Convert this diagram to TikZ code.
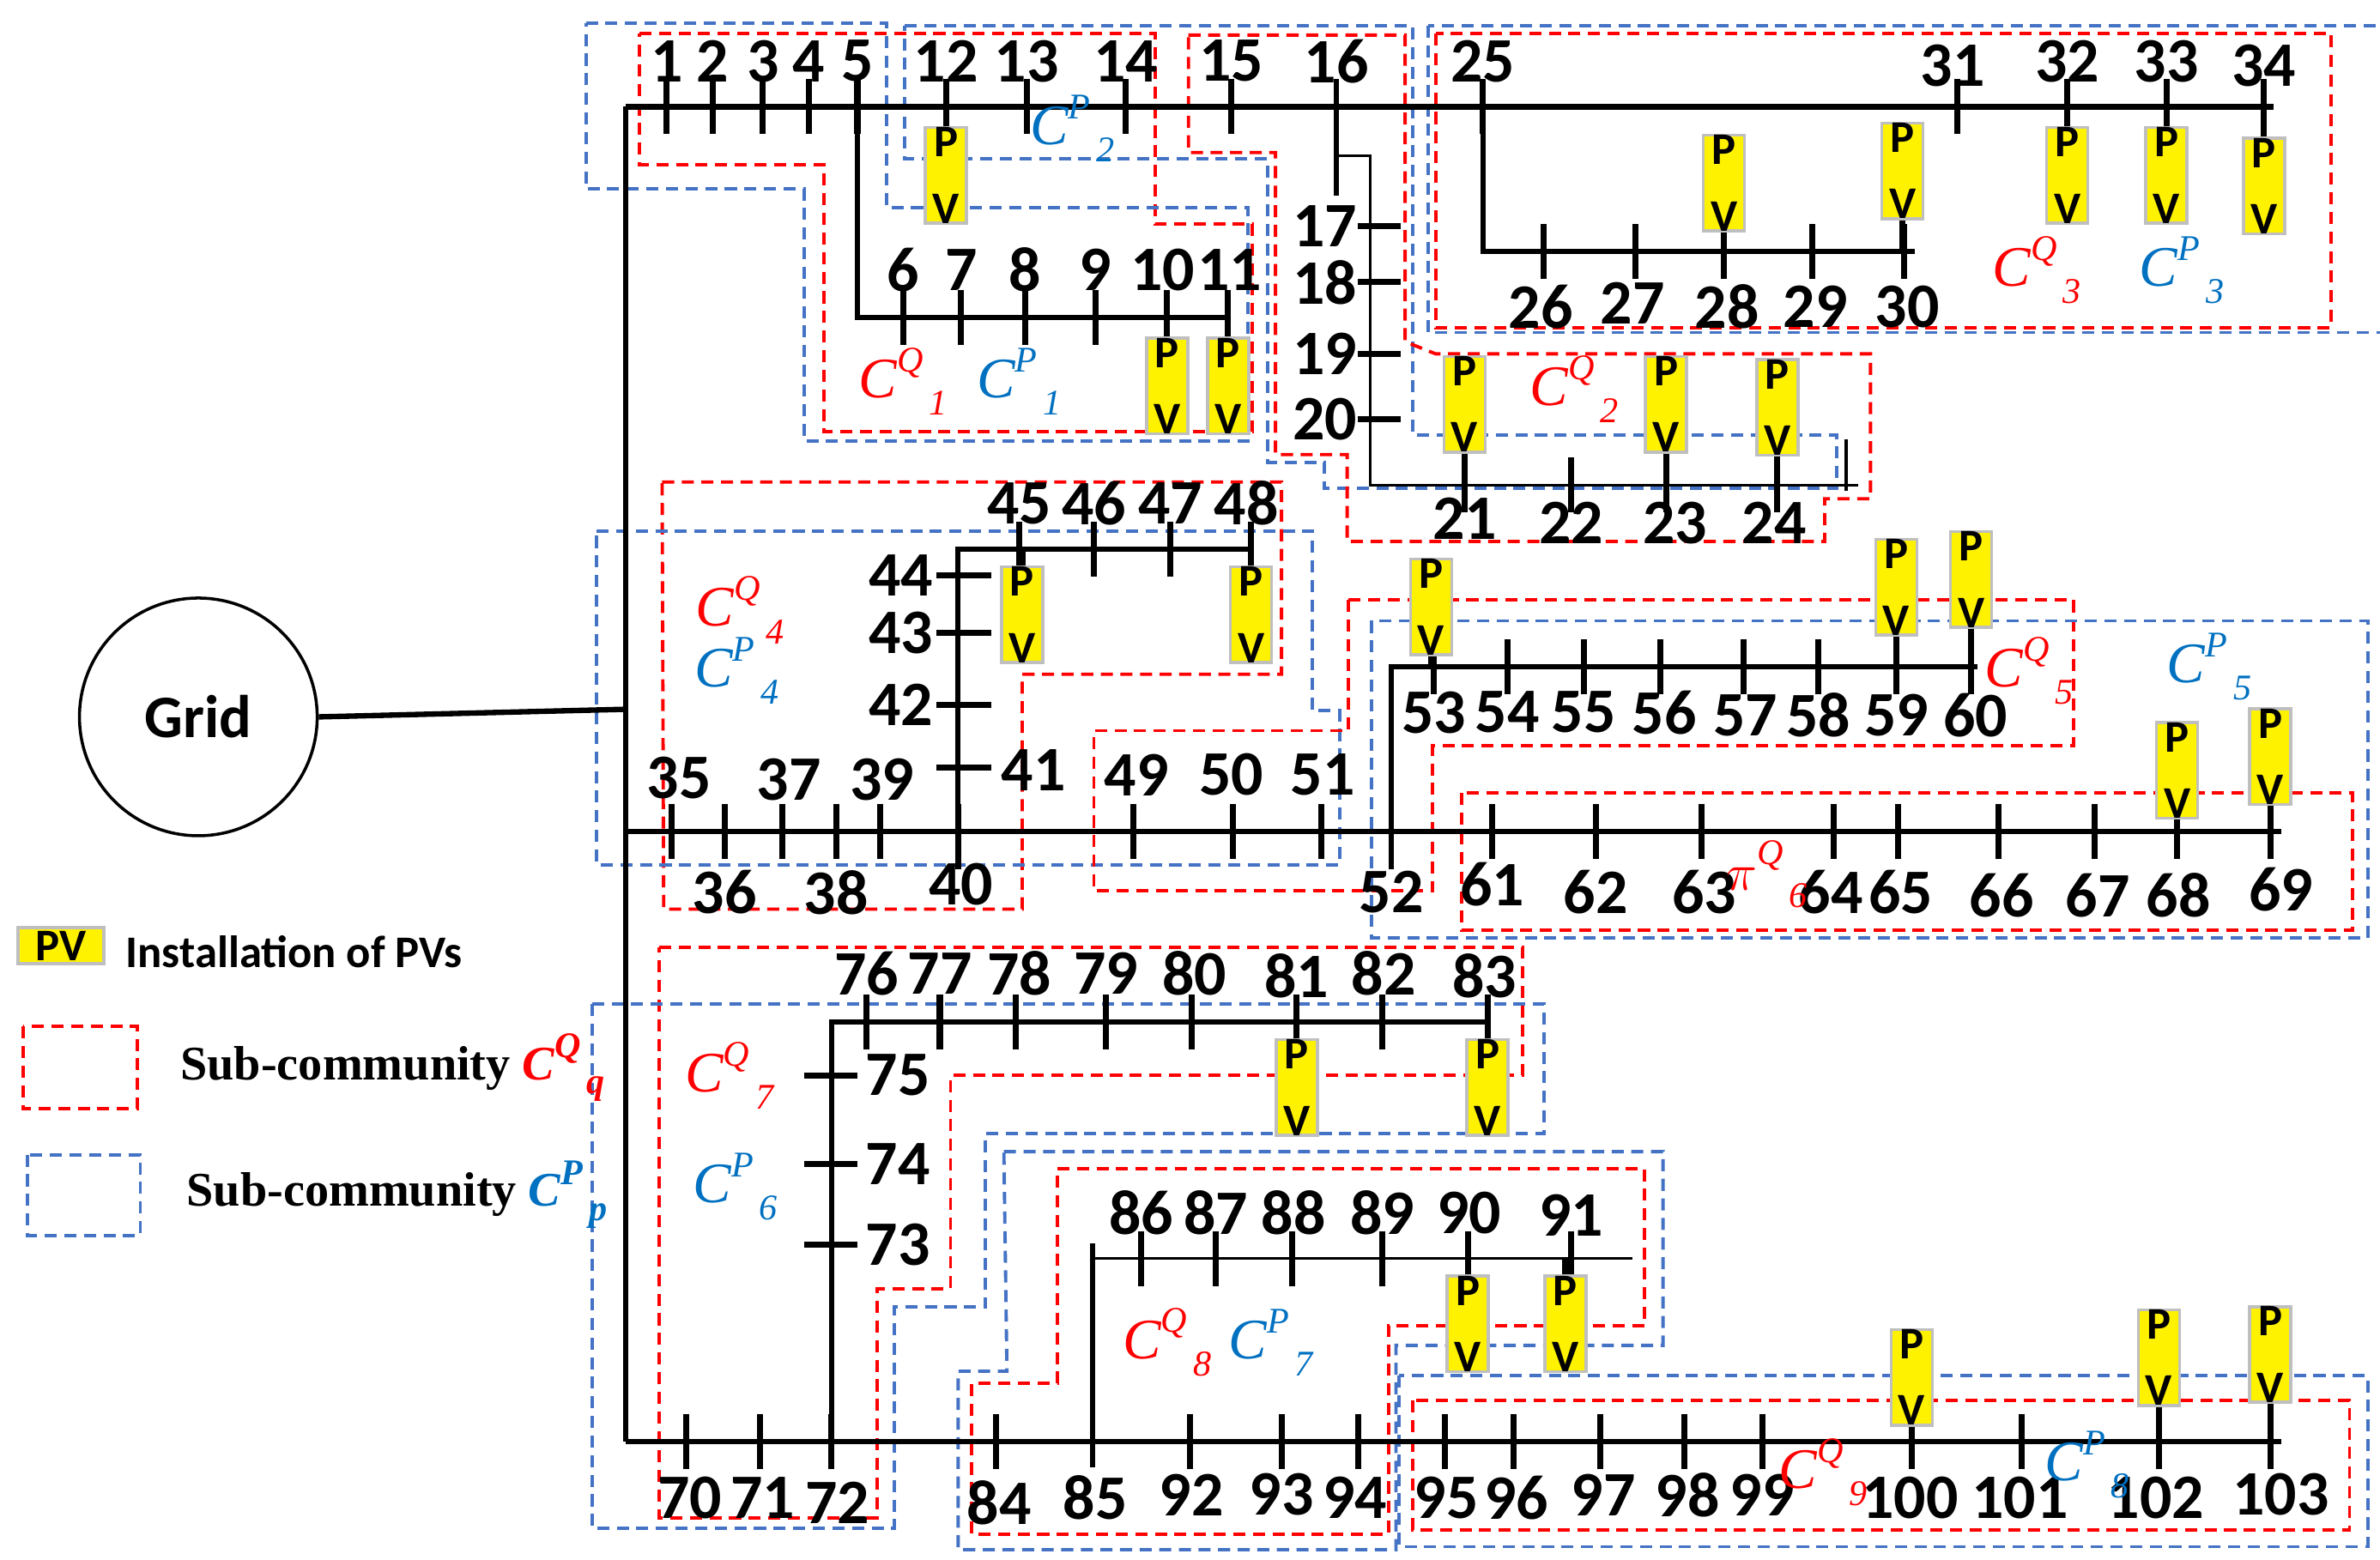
\documentclass[tikz,border=0pt]{standalone}
\usepackage{fontspec}
\setmainfont{Carlito}
\newfontfamily\tmsfont{Liberation Serif}
\usetikzlibrary{positioning}
\definecolor{qred}{RGB}{255,0,0}
\definecolor{pblue}{RGB}{68,114,196}
\definecolor{lblue}{RGB}{0,112,192}
\newcommand{\subcom}[3]{{\tmsfont\itshape #1\raisebox{0.45em}{\fontsize{12}{12}\selectfont #2}\raisebox{-0.3em}{\fontsize{12}{12}\selectfont\,#3}}}
\begin{document}
\begin{tikzpicture}[x=0.01778cm, y=-0.01778cm,
        every node/.style={inner sep=0pt},
        bus/.style={line width=1.8pt, draw=black},
        thinbus/.style={line width=1pt, draw=black},
        tick/.style={line width=2pt, draw=black},
        num/.style={font=\fontsize{21}{21}\selectfont\bfseries},
        pv/.style={draw=black!25, line width=1pt, fill=yellow, minimum width=0.48cm, minimum height=1.05cm,
                   font=\fontsize{15}{15}\selectfont\bfseries, align=center},
        qbox/.style={draw=qred, line width=1.1pt, dash pattern=on 4pt off 2.5pt},
        pbox/.style={draw=pblue, line width=1.1pt, dash pattern=on 4pt off 2.5pt},
        qlab/.style={text=qred, font=\fontsize{19}{19}\selectfont},
        plab/.style={text=lblue, font=\fontsize{19}{19}\selectfont}
    ]
        \useasboundingbox (0,0) rectangle (1560,1022.7);

        % --- Sub-community borders ---
        \draw[qbox] (419,22) -- (757,22) -- (757,147) -- (821,147) -- (821,283) -- (540,283) -- (540,108) -- (419,108) -- cycle;
        \draw[pbox] (384,15) -- (581,15) -- (581,136) -- (818,136) -- (818,289) -- (527,289) -- (527,124) -- (384,124) -- cycle;
        \draw[pbox] (593,17) -- (926,17) -- (926,285) -- (1204,285) -- (1204,320) -- (868,320) -- (868,303) -- (831,303) -- (831,104) -- (593,104) -- cycle;
        \draw[qbox] (779,23) -- (921,23) -- (921,224) -- (941,232) -- (1226,232) -- (1226,327) -- (1196,327) -- (1196,355) -- (883,355) -- (883,298) -- (836,298) -- (836,100) -- (779,100) -- cycle;
        \draw[pbox] (936,17) rectangle (1566,218);
        \draw[qbox] (941,22) rectangle (1528,215);
        \draw[qbox] (434,316) -- (840,316) -- (840,442) -- (670,442) -- (670,596) -- (435,596) -- cycle;
        \draw[pbox] (391,348) -- (860,348) -- (860,466) -- (878,466) -- (878,567) -- (391,567) -- cycle;
        \draw[qbox] (884,393) -- (1359,393) -- (1359,489) -- (939,489) -- (939,584) -- (717,584) -- (717,479) -- (884,479) -- cycle;
        \draw[pbox] (899,407) rectangle (1552,615);
        \draw[qbox] (958,520) rectangle (1542,610);
        \draw[qbox] (432,621) -- (998,621) -- (998,705) -- (623,705) -- (623,845) -- (575,845) -- (575,995) -- (432,995) -- cycle;
        \draw[pbox] (388,658) -- (1012,658) -- (1012,743) -- (646,743) -- (646,857) -- (586,857) -- (586,1002) -- (388,1002) -- cycle;
        \draw[pbox] (658,755) -- (1090,755) -- (1090,882) -- (915,882) -- (915,1016) -- (628,1016) -- (628,899) -- (660,899) -- cycle;
        \draw[qbox] (693,766) -- (1078,766) -- (1078,869) -- (910,869) -- (910,1006) -- (637,1006) -- (637,907) -- (693,907) -- cycle;
        \draw[pbox] (917,902) rectangle (1552,1014);
        \draw[qbox] (926,918) rectangle (1540,1003);

        % --- Grid ---
        \node[draw, line width=1pt, circle, minimum size=2.77cm, font=\fontsize{20}{20}\selectfont\bfseries] (grid) at (130,470) {Grid};
        \coordinate (pcc) at (410,465);
        \draw[bus] (grid.east) -- (pcc);

        % --- Main lines ---
        \coordinate (top_w) at (410,70);
        \coordinate (top_e) at (1490,70);
        \coordinate (mid_w) at (410,545);
        \coordinate (mid_e) at (1495,545);
        \coordinate (bot_w) at (410,945);
        \coordinate (bot_e) at (1495,945);
        \draw[bus] (top_w) -- (bot_w);
        \draw[bus] (top_w) -- (top_e);
        \draw[bus] (mid_w) -- (mid_e);
        \draw[bus] (bot_w) -- (bot_e);

        % --- Laterals ---
        \draw[bus] (562,70) -- (562,208) -- (805,208);
        \draw[bus] (876,52) -- (876,128);
        \draw[thinbus] (876,102) -- (898,102) -- (898,318) -- (1218,318);
        \draw[thinbus] (1210,288) -- (1210,322);
        \draw[bus] (972,52) -- (972,165) -- (1255,165);
        \draw[bus] (628,570) -- (628,360) -- (820,360);
        \draw[bus] (912,570) -- (912,437) -- (1296,437);
        \draw[bus] (545,945) -- (545,670) -- (975,670);
        \draw[bus] (716,962) -- (716,815);
        \draw[thinbus] (716,825) -- (1070,825);

        % --- Buses on horizontal lines: x / name / line y / label y ---
        \foreach \x/\n/\ly/\ty in {437/1/70/40, 467/2/70/40, 500/3/70/40, 530/4/70/40, 562/5/70/40,
                620/12/70/40, 673/13/70/40, 738/14/70/40, 807/15/70/40, 876/16/70/40, 972/25/70/40,
                1280/31/70/43, 1355/32/70/40, 1420/33/70/40, 1484/34/70/43,
                592/6/208/177, 630/7/208/177, 672/8/208/177, 718/9/208/177, 762/10/208/177, 806/11/208/177,
                1010/26/165/201, 1070/27/165/199, 1132/28/165/201, 1190/29/165/201, 1250/30/165/201,
                960/21/318/340, 1030/22/318/343, 1098/23/318/343, 1163/24/318/343,
                668/45/360/330, 717/46/360/330, 767/47/360/330, 817/48/360/330,
                445/35/545/510, 517/37/545/511, 578/39/545/511, 745/49/545/508, 807/50/545/508, 867/51/545/508,
                475/36/545/585, 548/38/545/585, 630/40/545/580, 912/52/545/585,
                978/61/545/580, 1046/62/545/585, 1117/63/545/585, 1200/64/545/585, 1246/65/545/585,
                1312/66/545/587, 1375/67/545/587, 1428/68/545/587, 1495/69/545/583,
                940/53/437/467, 988/54/437/467, 1038/55/437/467, 1091/56/437/467, 1144/57/437/469,
                1192/58/437/469, 1243/59/437/469, 1295/60/437/469,
                568/76/670/638, 616/77/670/638, 668/78/670/638, 725/79/670/638, 783/80/670/638,
                850/81/670/640, 907/82/670/638, 973/83/670/640,
                748/86/825/795, 797/87/825/795, 848/88/825/795, 906/89/825/795, 963/90/825/795, 1030/91/825/797,
                452/70/945/982, 500/71/945/982, 549/72/945/985, 655/84/945/985, 718/85/945/982,
                781/92/945/980, 840/93/945/980, 888/94/945/982, 948/95/945/982, 994/96/945/982,
                1051/97/945/980, 1106/98/945/980, 1155/99/945/980, 1252/100/945/982, 1324/101/945/982,
                1413/102/945/982, 1495/103/945/980}
        {
            \node[num] (n\n) at (\x,\ty) {\n};
        }
        \foreach \x/\ly in {437/70, 467/70, 500/70, 530/70, 562/70, 620/70, 673/70, 738/70, 807/70, 972/70,
                1283/70, 1355/70, 1420/70, 1484/70,
                592/208, 630/208, 672/208, 718/208, 765/208, 805/208,
                1012/165, 1072/165, 1130/165, 1188/165, 1248/165,
                960/318, 1030/318, 1092/318, 1165/318,
                668/360, 717/360, 767/360, 820/360,
                440/545, 475/545, 513/545, 548/545, 577/545, 743/545, 808/545, 866/545,
                978/545, 1046/545, 1115/545, 1202/545, 1244/545, 1310/545, 1373/545, 1427/545, 1488/545,
                940/437, 988/437, 1038/437, 1088/437, 1143/437, 1192/437, 1243/437, 1292/437,
                568/670, 616/670, 666/670, 725/670, 781/670, 850/670, 906/670, 975/670,
                748/825, 797/825, 847/825, 906/825, 962/825, 1030/825,
                450/945, 498/945, 545/945, 653/945, 780/945, 840/945, 890/945,
                947/945, 992/945, 1049/945, 1104/945, 1155/945, 1253/945, 1325/945, 1415/945, 1488/945}
        {
            \draw[tick] (\x,\ly-18) -- (\x,\ly+18);
        }
        \draw[tick] (628,527) -- (628,570);

        % --- Buses on vertical lines ---
        \foreach \yy/\n in {148/17, 185/18, 232/19, 275/20}
        {
            \node[num, anchor=east] (n\n) at (890,\yy) {\n};
            \draw[tick] (n\n.east) -- (918,\yy);
        }
        \foreach \yy/\n in {377/44, 415/43, 462/42}
        {
            \node[num, anchor=east] (n\n) at (612,\yy) {\n};
            \draw[tick] (614,\yy) -- (650,\yy);
        }
        \node[num, anchor=west] (n41) at (656,505) {41};
        \draw[tick] (614,503) -- (650,503);
        \foreach \yy/\n in {705/75, 763/74, 816/73}
        {
            \node[num, anchor=west] (n\n) at (567,\yy) {\n};
            \draw[tick] (527,\yy) -- (562,\yy);
        }

        % --- PV installations: x / y of box / y of its bus ---
        \foreach \x/\yy/\ly in {620/115/70, 765/253/208, 805/253/208, 1130/120/165, 1247/112/165,
                1355/115/70, 1420/115/70, 1484/122/70, 960/265/318, 1092/265/318, 1165/267/318,
                670/403/360, 820/403/360, 938/398/437, 1243/385/437, 1292/380/437,
                1427/505/545, 1488/496/545, 850/713/670, 975/713/670, 962/868/825, 1026/868/825,
                1253/903/945, 1415/890/945, 1488/888/945}
        {
            \draw[tick] (\x,\ly) -- (\x,\yy);
            \node[pv] at (\x,\yy) {P\\[7pt]V};
        }

        % --- Sub-community names ---
        \node[qlab] (q1) at (592,250) {\subcom{C}{Q}{1}};
        \node[plab] (p1) at (668,250) {\subcom{C}{P}{1}};
        \node[plab] (p2) at (703,84) {\subcom{C}{P}{2}};
        \node[qlab] (q2) at (1032,255) {\subcom{C}{Q}{2}};
        \node[qlab] (q3) at (1335,177) {\subcom{C}{Q}{3}};
        \node[plab] (p3) at (1430,177) {\subcom{C}{P}{3}};
        \node[qlab] (q4) at (485,400) {\subcom{C}{Q}{4}};
        \node[plab] (p4) at (483,440) {\subcom{C}{P}{4}};
        \node[qlab] (q5) at (1330,440) {\subcom{C}{Q}{5}};
        \node[plab] (p5) at (1448,437) {\subcom{C}{P}{5}};
        \node[qlab] (q6) at (1158,573) {\subcom{$\pi$}{Q}{6}};
        \node[qlab] (q7) at (478,705) {\subcom{C}{Q}{7}};
        \node[plab] (p6) at (482,778) {\subcom{C}{P}{6}};
        \node[qlab] (q8) at (765,880) {\subcom{C}{Q}{8}};
        \node[plab] (p7) at (833,880) {\subcom{C}{P}{7}};
        \node[qlab] (q9) at (1195,965) {\subcom{C}{Q}{9}};
        \node[plab] (p8) at (1368,960) {\subcom{C}{P}{8}};

        % --- Legend ---
        \node[pv, minimum width=1.0cm, minimum height=0.42cm] (leg_pv) at (40,620) {PV};
        \node[anchor=west, font=\fontsize{15}{15}\selectfont\bfseries] (leg_pv_txt) at (82,624) {Installation of PVs};
        \draw[qbox] (15,673) rectangle (90,727);
        \node[anchor=west, font=\tmsfont\fontsize{16}{16}\selectfont\bfseries] (leg_q) at (118,700) {Sub-community \textcolor{qred}{\subcom{C}{Q}{q}}};
        \draw[pbox] (18,757) rectangle (92,810);
        \node[anchor=west, font=\tmsfont\fontsize{16}{16}\selectfont\bfseries] (leg_p) at (122,783) {Sub-community \textcolor{lblue}{\subcom{C}{P}{p}}};
    \end{tikzpicture}
\end{document}
